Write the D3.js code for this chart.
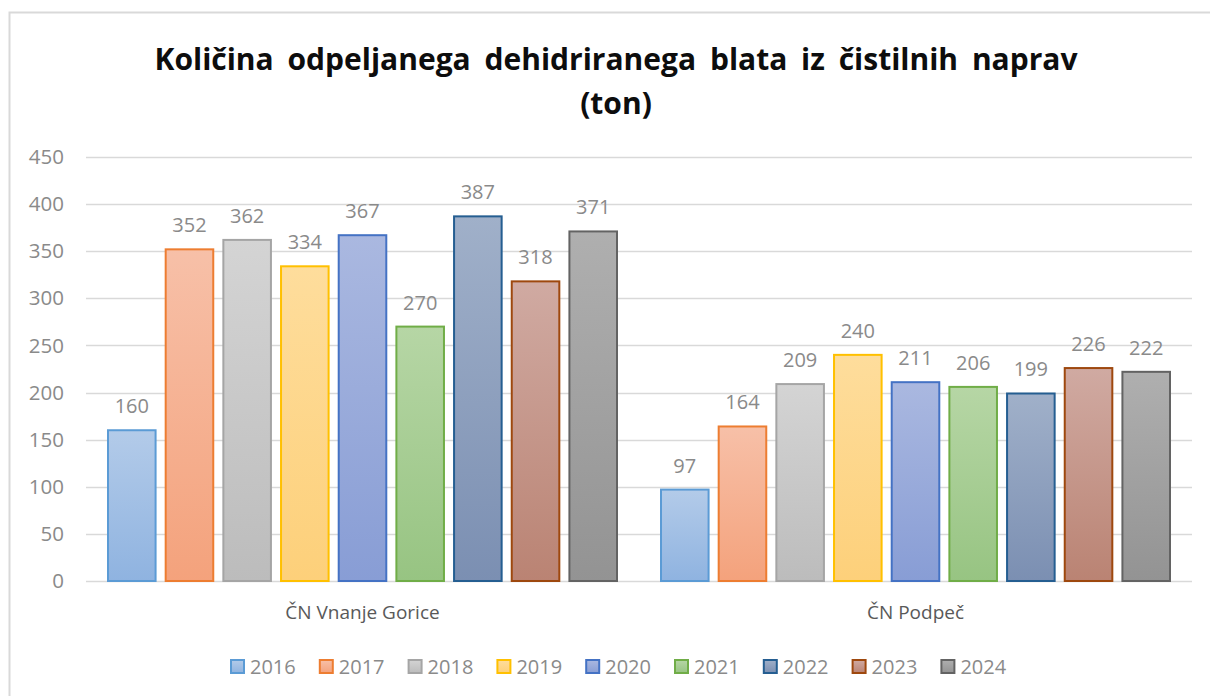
<!DOCTYPE html>
<html>
<head>
<meta charset="utf-8">
<script src="https://cdn.jsdelivr.net/npm/d3@7"></script>
<style>
  body { margin: 0; background: #fff; }
  text { font-family: "Open Sans", "Noto Sans", sans-serif; }
</style>
</head>
<body>
<div id="chart"></div>
<script>

var categories = ["ČN Vnanje Gorice", "ČN Podpeč"];
var years      = ["2016","2017","2018","2019","2020","2021","2022","2023","2024"];
var vnanje     = [160, 352, 362, 334, 367, 270, 387, 318, 371];
var podpec     = [97, 164, 209, 240, 211, 206, 199, 226, 222];
var yTicks     = [0, 50, 100, 150, 200, 250, 300, 350, 400, 450];

// excel style: stroke, gradient top, gradient bottom
var strokes = ["#5B9BD5","#ED7D31","#A5A5A5","#FFC000","#4472C4","#70AD47","#255E91","#9E480E","#636363"];
var fillTop = ["#b3cbe9","#f7c0a8","#d4d4d4","#fedd9c","#aab8e0","#b6d6a5","#a0b0c9","#d0aaa2","#afafaf"];
var fillBot = ["#8fb3e0","#f4a27c","#bcbcbc","#fdd07a","#889dd5","#97c482","#7b8fb2","#ba8373","#939393"];

var width = 1210, height = 696;
var margin = {top: 157, right: 18, bottom: 115, left: 86};

var svg = d3.select("#chart")
  .append("svg")
    .attr("width", width)
    .attr("height", height);

// outer chart frame
svg.append("rect")
  .attr("x", 9.5).attr("y", 12.5)
  .attr("width", 1230).attr("height", 720)
  .attr("fill", "#fff")
  .attr("stroke", "#d9d9d9")
  .attr("stroke-width", 2);

var defs = svg.append("defs");
years.forEach(function(y, i){
  var g = defs.append("linearGradient")
    .attr("id", "grad" + i)
    .attr("x1", 0).attr("y1", 0).attr("x2", 0).attr("y2", 1);
  g.append("stop").attr("offset", "0%").attr("stop-color", fillTop[i]);
  g.append("stop").attr("offset", "100%").attr("stop-color", fillBot[i]);
});

//......................... Title ............................
var title = svg.append("text")
  .attr("text-anchor", "middle")
  .attr("font-weight", "bold")
  .attr("font-size", 30)
  .attr("fill", "#0d0d0d")
  .attr("word-spacing", 6);
title.append("tspan").attr("x", 616).attr("y", 70)
  .text("Količina odpeljanega dehidriranega blata iz čistilnih naprav");
title.append("tspan").attr("x", 616).attr("y", 114)
  .text("(ton)");

var plotW = width - margin.left - margin.right;
var plotH = height - margin.top - margin.bottom;

var y = d3.scaleLinear()
  .domain([0, 450])
  .range([margin.top + plotH, margin.top]);

var x0 = d3.scaleBand()
  .domain(categories)
  .range([margin.left, margin.left + plotW]);

var x1 = d3.scaleBand()
  .domain(years)
  .range([22, x0.bandwidth() - 22])
  .paddingInner(0.175)
  .paddingOuter(0);

// gridlines
svg.append("g")
  .selectAll("line")
  .data(yTicks)
  .enter()
  .append("line")
  .attr("x1", margin.left)
  .attr("x2", margin.left + plotW)
  .attr("y1", function(d){ return Math.round(y(d)) + 0.5; })
  .attr("y2", function(d){ return Math.round(y(d)) + 0.5; })
  .attr("stroke", "#d9d9d9")
  .attr("stroke-width", 1.5);

// y axis labels
var yAxis = d3.axisLeft(y).tickValues(yTicks).tickSize(0).tickPadding(0);
var gy = svg.append("g")
  .attr("transform", "translate(64,0)")
  .call(yAxis);
gy.select(".domain").remove();
gy.selectAll("text")
  .attr("font-size", 20.5)
  .attr("fill", "#8a8a8a")
  .style("font-family", "'Open Sans', sans-serif");

// bars
var series = [vnanje, podpec];
categories.forEach(function(cat, c){
  var g = svg.append("g")
    .attr("transform", "translate(" + x0(cat) + ",0)");

  g.selectAll("rect")
    .data(series[c])
    .enter()
    .append("rect")
    .attr("x", function(d, i){ return x1(years[i]); })
    .attr("y", function(d){ return y(d); })
    .attr("width", x1.bandwidth())
    .attr("height", function(d){ return y(0) - y(d); })
    .attr("fill", function(d, i){ return "url(#grad" + i + ")"; })
    .attr("stroke", function(d, i){ return strokes[i]; })
    .attr("stroke-width", 2);

  g.selectAll("text.val")
    .data(series[c])
    .enter()
    .append("text")
    .attr("class", "val")
    .attr("x", function(d, i){ return x1(years[i]) + x1.bandwidth()/2; })
    .attr("y", function(d){ return y(d) - 17; })
    .attr("text-anchor", "middle")
    .attr("font-size", 20)
    .attr("fill", "#8a8a8a")
    .text(function(d){ return d; });
});

// category labels
svg.append("g")
  .selectAll("text")
  .data(categories)
  .enter()
  .append("text")
  .attr("x", function(d){ return x0(d) + x0.bandwidth()/2; })
  .attr("y", 619)
  .attr("text-anchor", "middle")
  .attr("font-size", 19)
  .attr("fill", "#595959")
  .text(function(d){ return d; });

//......................... Legend ............................
var legend = svg.append("g")
  .selectAll("g")
  .data(years)
  .enter()
  .append("g")
  .attr("transform", function(d, i){ return "translate(" + (230 + i*88.8) + ",660)"; });

legend.append("rect")
  .attr("x", 1).attr("y", 0)
  .attr("width", 13).attr("height", 13)
  .attr("fill", function(d, i){ return "url(#grad" + i + ")"; })
  .attr("stroke", function(d, i){ return strokes[i]; })
  .attr("stroke-width", 2);

legend.append("text")
  .attr("x", 20)
  .attr("y", 14)
  .attr("font-size", 20)
  .attr("fill", "#8a8a8a")
  .text(function(d){ return d; });

</script>
</body>
</html>
